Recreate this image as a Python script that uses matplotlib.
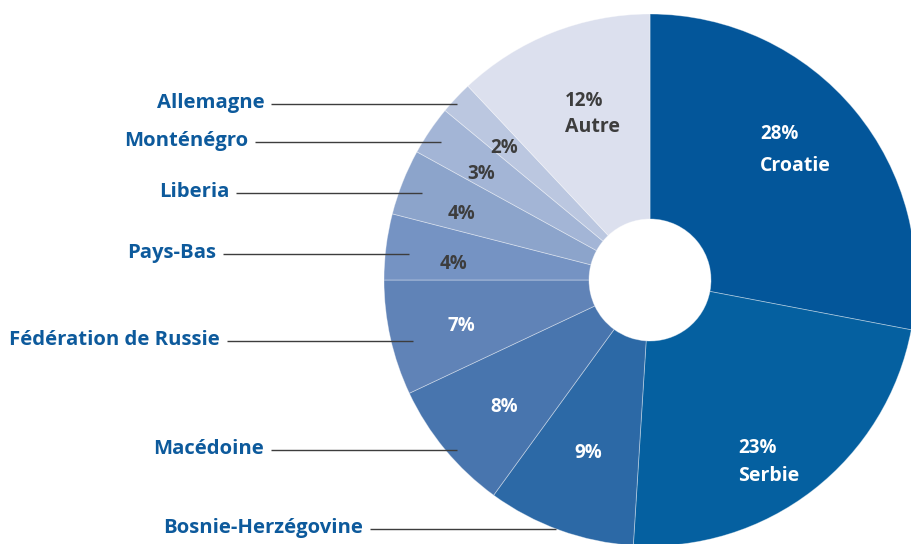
import numpy as np
import matplotlib
matplotlib.use("Agg")
import matplotlib.pyplot as plt

# ---- data ----
countries = ["Croatie", "Serbie", "Bosnie-Herzégovine", "Macédoine",
             "Fédération de Russie", "Pays-Bas", "Liberia", "Monténégro",
             "Allemagne", "Autre"]
shares = [28, 23, 9, 8, 7, 4, 4, 3, 2, 12]
pct_labels = ["28%", "23%", "9%", "8%", "7%", "4%", "4%", "3%", "2%", "12%"]
colors = ["#03569a", "#0560a0", "#2c69a6", "#4875ae", "#6083b7",
          "#7593c3", "#8ca4cb", "#a3b5d6", "#bbc7e0", "#dce0ee"]
pct_colors = ["white", "white", "white", "white", "white",
              "#3d3d3d", "#3d3d3d", "#3d3d3d", "#3d3d3d", "#3d3d3d"]

# layout
W, H = 912, 544
CX, CY = 650, H - 280
R = 266
HOLE = 61
label_blue = "#0d5a9c"

plt.rcParams['font.family'] = ['Open Sans', 'DejaVu Sans']
fig = plt.figure(figsize=(W / 100, H / 100), dpi=100)
ax = fig.add_axes([0, 0, 1, 1])
ax.set_xlim(0, W)
ax.set_ylim(0, H)
ax.set_aspect('equal')
ax.axis('off')

wedges, _ = ax.pie(shares, colors=colors, startangle=90, counterclock=False,
                   radius=R, center=(CX, CY),
                   wedgeprops=dict(width=R - HOLE, edgecolor=(1, 1, 1, 0.4),
                                   linewidth=0.6))
ax.set_xlim(0, W)
ax.set_ylim(0, H)


def polar(ang_deg, r):
    a = np.deg2rad(ang_deg)
    return CX + r * np.cos(a), CY + r * np.sin(a)


mids = [(w.theta1 + w.theta2) / 2 for w in wedges]

# percent label placement (radius fraction, angle offset)
pct_r = [0.64, 0.76, 0.69, 0.725, 0.73, 0.74, 0.75, 0.75, 0.74, 0.70]
pct_off = [10, -12, 0.3, 1.4, 1.2, 2.5, 2.2, 2.2, 1.2, 5.5]
two_line = {0: "Croatie", 1: "Serbie", 9: "Autre"}
gap = {0: 16, 1: 14, 9: 13}

for i, w in enumerate(wedges):
    x, y = polar(mids[i] + pct_off[i], pct_r[i] * R)
    if i in two_line:
        ax.text(x, y + gap[i], pct_labels[i], ha='left', va='center',
                fontsize=13.5, fontweight='bold', color=pct_colors[i])
        ax.text(x, y - gap[i], two_line[i], ha='left', va='center',
                fontsize=14, fontweight='bold', color=pct_colors[i])
    else:
        ax.text(x, y, pct_labels[i], ha='center', va='center',
                fontsize=13.5, fontweight='bold', color=pct_colors[i])

# outer labels with leader lines
lead = {2: (1.0, -0.8), 3: (0.966, 1.8), 4: (0.92, 1.9), 5: (0.91, 1.0),
        6: (0.917, 0.6), 7: (0.94, 0.8), 8: (0.98, 0.8)}
LEN = 186
for i, (rf, off) in lead.items():
    xe, ye = polar(mids[i] + off, rf * R)
    xs = xe - LEN
    ax.plot([xs, xe], [ye, ye], color="#3d3d3d", lw=1.0, solid_capstyle='butt')
    ax.text(xs - 7, ye + 1, countries[i], ha='right', va='center',
            fontsize=14.6, fontweight='bold', color=label_blue)

fig.savefig("out.png", dpi=100)
